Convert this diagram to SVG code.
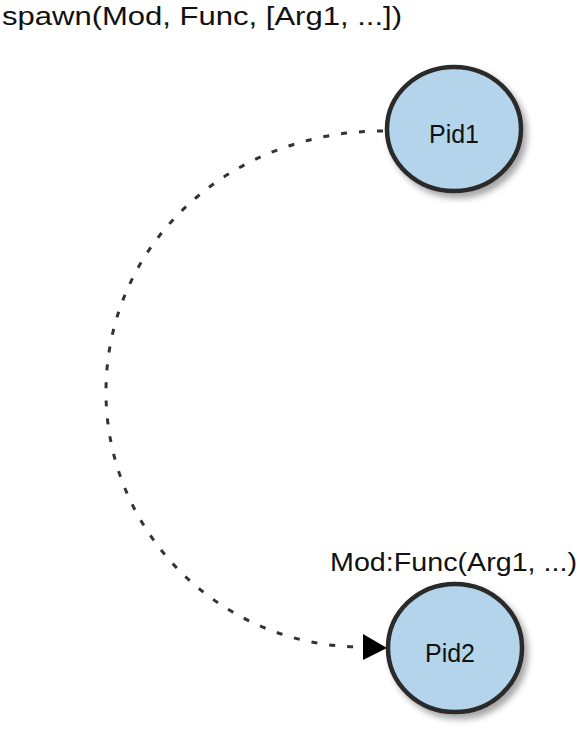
<svg xmlns="http://www.w3.org/2000/svg" width="579" height="742" viewBox="0 0 579 742">
<style>
.lbl{font-family:"Liberation Sans","DejaVu Sans",sans-serif;font-size:25px;fill:#111}
.node ellipse{fill:#b3d4ea;stroke:#2b2b2b;stroke-width:4.5}
.edge{fill:none;stroke:#333;stroke-width:3;stroke-dasharray:6 12}
</style>
<defs>
<filter id="sh" x="-20%" y="-20%" width="150%" height="150%">
<feDropShadow dx="4" dy="5" stdDeviation="3" flood-color="#000" flood-opacity="0.35"/>
</filter>
</defs>
<text class="lbl" x="2" y="25" textLength="400" lengthAdjust="spacingAndGlyphs">spawn(Mod, Func, [Arg1, ...])</text>
<text class="lbl" x="330" y="571" textLength="247" lengthAdjust="spacingAndGlyphs">Mod:Func(Arg1, ...)</text>
<g id="connectors">
<path class="edge" d="M383,131 C230,131 106,243 106,392 C106,533 221,647 362,647"/>
<polygon points="363,634 387,648 363,660" fill="#000"/>
</g>
<g id="pid1" class="node">
<ellipse cx="454" cy="129" rx="67" ry="62" filter="url(#sh)"/>
<text class="lbl" x="454" y="143" text-anchor="middle" font-size="26">Pid1</text>
</g>
<g id="pid2" class="node">
<ellipse cx="455" cy="648" rx="67" ry="64" filter="url(#sh)"/>
<text class="lbl" x="450" y="662" text-anchor="middle" font-size="26">Pid2</text>
</g>
</svg>
